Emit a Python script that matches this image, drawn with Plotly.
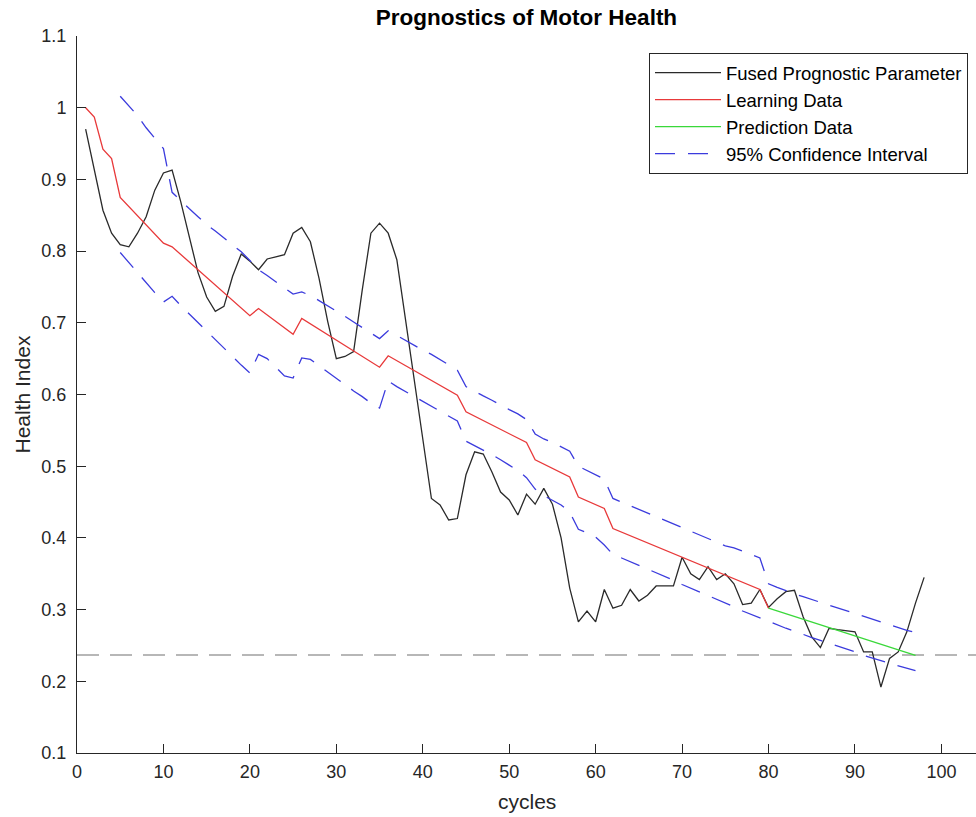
import plotly.graph_objects as go

# ---------------- data ----------------
cycles = list(range(1, 99))
fused = [0.970, 0.911, 0.857, 0.825, 0.809, 0.806, 0.825, 0.848, 0.885, 0.909,
         0.913, 0.869, 0.820, 0.770, 0.736, 0.716, 0.723, 0.765, 0.796, 0.786,
         0.774, 0.789, 0.792, 0.795, 0.825, 0.833, 0.813, 0.762, 0.702, 0.650,
         0.653, 0.660, 0.746, 0.825, 0.839, 0.825, 0.788, 0.706, 0.622, 0.540,
         0.455, 0.446, 0.425, 0.427, 0.488, 0.520, 0.517, 0.492, 0.464, 0.453,
         0.432, 0.461, 0.447, 0.469, 0.447, 0.400, 0.330, 0.283, 0.298, 0.283,
         0.328, 0.302, 0.306, 0.328, 0.312, 0.320, 0.333, 0.333, 0.333, 0.373,
         0.350, 0.342, 0.360, 0.342, 0.350, 0.336, 0.307, 0.309, 0.328, 0.303,
         0.315, 0.325, 0.327, 0.290, 0.262, 0.247, 0.274, 0.272, 0.270, 0.269,
         0.241, 0.241, 0.192, 0.232, 0.241, 0.269, 0.309, 0.345]

learn_x = [1, 2, 3, 4, 5, 10, 11, 20, 21, 25, 26, 35, 36, 44, 45, 52, 53, 57, 58, 61, 62, 79, 80]
learn_y = [1.000, 0.987, 0.942, 0.929, 0.875, 0.811, 0.806, 0.710, 0.720, 0.684, 0.706,
           0.638, 0.654, 0.599, 0.576, 0.533, 0.509, 0.485, 0.457, 0.441, 0.413, 0.328, 0.302]

pred_x = [80, 97]
pred_y = [0.302, 0.236]

ci_x = list(range(5, 98))
ci_upper = [1.016, 1.002, 0.989, 0.972, 0.957, 0.943, 0.882, 0.870, 0.859, 0.848,
            0.837, 0.828, 0.818, 0.808, 0.799, 0.787, 0.774, 0.766, 0.757, 0.748,
            0.740, 0.743, 0.738, 0.731, 0.724, 0.716, 0.709, 0.701, 0.693, 0.686,
            0.678, 0.689, 0.682, 0.675, 0.668, 0.662, 0.656, 0.649, 0.641, 0.634,
            0.611, 0.604, 0.598, 0.592, 0.585, 0.579, 0.573, 0.565, 0.545, 0.538,
            0.533, 0.527, 0.521, 0.500, 0.494, 0.488, 0.482, 0.455, 0.450, 0.444,
            0.440, 0.435, 0.430, 0.425, 0.420, 0.415, 0.409, 0.404, 0.399, 0.394,
            0.389, 0.386, 0.382, 0.377, 0.372, 0.336, 0.331, 0.326, 0.322, 0.318,
            0.314, 0.310, 0.306, 0.302, 0.298, 0.294, 0.290, 0.286, 0.282, 0.278,
            0.275, 0.271, 0.268]
ci_lower = [0.798, 0.784, 0.769, 0.755, 0.742, 0.729, 0.737, 0.724, 0.712, 0.700,
            0.688, 0.676, 0.665, 0.653, 0.641, 0.630, 0.656, 0.650, 0.638, 0.626,
            0.623, 0.651, 0.649, 0.640, 0.631, 0.622, 0.614, 0.605, 0.597, 0.588,
            0.581, 0.619, 0.611, 0.604, 0.597, 0.590, 0.583, 0.576, 0.569, 0.563,
            0.535, 0.529, 0.523, 0.516, 0.509, 0.501, 0.494, 0.484, 0.468, 0.459,
            0.452, 0.446, 0.436, 0.412, 0.407, 0.401, 0.390, 0.377, 0.372, 0.367,
            0.361, 0.356, 0.351, 0.346, 0.341, 0.335, 0.330, 0.325, 0.319, 0.314,
            0.309, 0.304, 0.298, 0.293, 0.288, 0.283, 0.278, 0.274, 0.270, 0.265,
            0.261, 0.257, 0.253, 0.249, 0.246, 0.241, 0.236, 0.233, 0.229, 0.225,
            0.222, 0.218, 0.215]

threshold = 0.2367
x_range = [0, 104]
y_range = [0.1, 1.1]
x_ticks = [0, 10, 20, 30, 40, 50, 60, 70, 80, 90, 100]
y_ticks = [0.1, 0.2, 0.3, 0.4, 0.5, 0.6, 0.7, 0.8, 0.9, 1.0, 1.1]
y_tick_labels = ["0.1", "0.2", "0.3", "0.4", "0.5", "0.6", "0.7", "0.8", "0.9", "1", "1.1"]

# ---------------- figure ----------------
FONT = "Liberation Sans, Arial, Helvetica, sans-serif"
W, H = 976, 817
ML, MR, MT, MB = 77, 0, 36, 64
fig = go.Figure()

fig.add_trace(go.Scatter(x=x_range, y=[threshold, threshold], mode="lines",
                         line=dict(color="#707070", width=1.2, dash="22px,11px"),
                         showlegend=False, hoverinfo="skip"))
fig.add_trace(go.Scatter(x=cycles, y=fused, mode="lines", name="Fused Prognostic Parameter",
                         line=dict(color="#2a2a2a", width=1.3)))
fig.add_trace(go.Scatter(x=learn_x, y=learn_y, mode="lines", name="Learning Data",
                         line=dict(color="#e8393a", width=1.3)))
fig.add_trace(go.Scatter(x=pred_x, y=pred_y, mode="lines", name="Prediction Data",
                         line=dict(color="#3ad83a", width=1.3)))
fig.add_trace(go.Scatter(x=ci_x, y=ci_upper, mode="lines", name="95% Confidence Interval",
                         line=dict(color="#3b3bdd", width=1.3, dash="20px,13px")))
fig.add_trace(go.Scatter(x=ci_x, y=ci_lower, mode="lines", name="95% Confidence Interval",
                         line=dict(color="#3b3bdd", width=1.3, dash="20px,13px"),
                         showlegend=False))

axis_common = dict(showgrid=False, zeroline=False, showline=True, linecolor="#262626",
                   linewidth=1, ticks="inside", ticklen=9, tickcolor="#262626",
                   tickfont=dict(family=FONT, size=18, color="#262626"),
                   mirror=False, automargin=False)

plot_w = W - ML - MR
plot_h = H - MT - MB

fig.update_layout(
    width=W, height=H,
    margin=dict(l=ML, r=MR, t=MT, b=MB, autoexpand=False),
    paper_bgcolor="white", plot_bgcolor="white",
    font=dict(family=FONT, color="#262626"),
    title=dict(text="<b>Prognostics of Motor Health</b>", x=526.5 / W, xanchor="center",
               y=1 - 17 / H, yanchor="middle", font=dict(family=FONT, size=22.5, color="black")),
    xaxis=dict(range=x_range, tickvals=x_ticks, ticklabelstandoff=2, **axis_common),
    yaxis=dict(range=y_range, tickvals=y_ticks, ticktext=y_tick_labels,
               ticklabelstandoff=6, **axis_common),
    legend=dict(x=(968 - ML) / plot_w, y=1 - (53 - MT) / plot_h, xanchor="right", yanchor="top",
                bgcolor="white", bordercolor="#262626", borderwidth=1,
                font=dict(family=FONT, size=18.5, color="black"),
                itemwidth=66, tracegroupgap=0),
    annotations=[
        dict(text="cycles", xref="paper", yref="paper", x=0.5, y=0,
             yshift=-(801 - (H - MB)), xanchor="center", yanchor="middle", showarrow=False,
             font=dict(family=FONT, size=21, color="#262626")),
        dict(text="Health Index", xref="paper", yref="paper", x=0, y=0.5,
             xshift=-(ML - 22), xanchor="center", yanchor="middle", textangle=-90,
             showarrow=False, font=dict(family=FONT, size=21, color="#262626")),
    ],
)

fig.write_html("out.html", config={"displayModeBar": False},
               post_script="document.body.style.margin='0px';"
                           "document.body.style.overflow='hidden';")
